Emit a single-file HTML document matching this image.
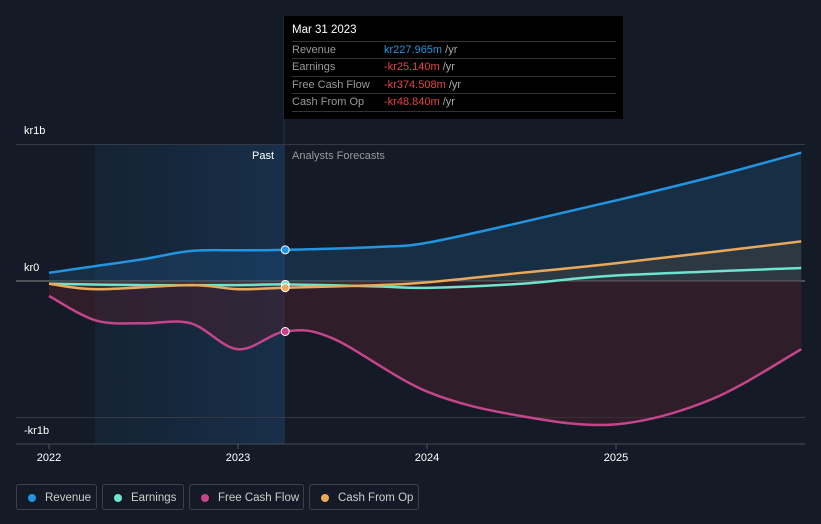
<!DOCTYPE html>
<html><head><meta charset="utf-8"><style>
body{margin:0;background:#151b26;font-family:"Liberation Sans",sans-serif;}
#wrap{position:relative;width:821px;height:524px;overflow:hidden;background:#151b26;}
svg{position:absolute;left:0;top:0}
.tt{position:absolute;left:284px;top:16px;width:339px;height:103px;background:#000;color:#ddd;font-size:11px}
.tt .h{position:absolute;left:8px;top:8px;color:#fff;font-size:11.5px}
.row{position:absolute;left:8px;width:324px;height:17px;border-top:1px solid #333;line-height:17px}
.row span.l{color:#999;position:absolute;left:0}
.row span.v{position:absolute;left:92px}
.u{color:#aaa}
.lg{position:absolute;top:484px;height:26px;border:1px solid #3a414c;border-radius:3px;color:#ccc;font-size:11.5px;line-height:26px;box-sizing:border-box}
.lg i{position:absolute;left:11px;top:9px;width:8px;height:8px;border-radius:50%}
.lg span{position:absolute;left:28px}
.ax{position:absolute;color:#fff;font-size:11px}
</style></head><body><div id="wrap">
<svg id="s" width="821" height="524"></svg>
<div class="ax" style="left:24px;top:125px">kr1b</div>
<div class="ax" style="left:24px;top:262px">kr0</div>
<div class="ax" style="left:24px;top:425px">-kr1b</div>
<div class="ax" style="left:252px;top:150px">Past</div>
<div class="ax" style="left:292px;top:150px;color:#999">Analysts Forecasts</div>
<div class="tt">
<div class="h">Mar 31 2023</div>
<div class="row" style="top:25px"><span class="l">Revenue</span><span class="v"><b style="font-weight:normal;color:#2394df">kr227.965m</b> <span class="u">/yr</span></span></div>
<div class="row" style="top:42px"><span class="l">Earnings</span><span class="v"><b style="font-weight:normal;color:#e64545">-kr25.140m</b> <span class="u">/yr</span></span></div>
<div class="row" style="top:60px"><span class="l">Free Cash Flow</span><span class="v"><b style="font-weight:normal;color:#e64545">-kr374.508m</b> <span class="u">/yr</span></span></div>
<div class="row" style="top:77px;border-bottom:1px solid #333"><span class="l">Cash From Op</span><span class="v"><b style="font-weight:normal;color:#e64545">-kr48.840m</b> <span class="u">/yr</span></span></div>
</div>
<div class="lg" style="left:16px;width:81px"><i style="background:#2394df"></i><span>Revenue</span></div>
<div class="lg" style="left:102px;width:82px"><i style="background:#6fe3cf"></i><span>Earnings</span></div>
<div class="lg" style="left:189px;width:115px"><i style="background:#c5458a"></i><span>Free Cash Flow</span></div>
<div class="lg" style="left:309px;width:110px"><i style="background:#e8a95c"></i><span>Cash From Op</span></div>
</div>
<script>
const revT=[2022,2022.25,2022.5,2022.75,2023,2023.25,2023.75,2024,2024.5,2025,2025.5,2025.98];
const revV=[0.06,0.11,0.16,0.22,0.225,0.228,0.25,0.28,0.43,0.59,0.76,0.94];
const earT=[2022,2022.5,2023,2023.25,2023.75,2024,2024.5,2025,2025.98];
const earV=[-0.02,-0.03,-0.03,-0.025,-0.04,-0.05,-0.02,0.04,0.095];
const fcfT=[2022,2022.25,2022.5,2022.75,2023,2023.25,2023.5,2024,2024.5,2025,2025.5,2025.98];
const fcfV=[-0.11,-0.29,-0.31,-0.31,-0.5,-0.37,-0.42,-0.81,-0.99,-1.05,-0.87,-0.5];
const cfoT=[2022,2022.25,2022.75,2023,2023.25,2023.75,2024,2024.5,2025,2025.98];
const cfoV=[-0.02,-0.06,-0.03,-0.06,-0.049,-0.03,-0.01,0.06,0.13,0.29];
const yTicks=[1,0,-1];
const xTicks=[2022,2023,2024,2025];
const X=t=>49+(t-2022)*189, Y=v=>281-v*136.5;
const NS='http://www.w3.org/2000/svg', s=document.getElementById('s');
function el(tag,a,name){const e=document.createElementNS(NS,tag);for(const k in a)e.setAttribute(k,a[k]);


s.appendChild(e);return e;}
s.innerHTML='<defs><linearGradient id="pg" x1="0" x2="1"><stop offset="0" stop-color="#15283d" stop-opacity="0.6"/><stop offset="1" stop-color="#182f4a"/></linearGradient></defs>';
el('rect',{x:95,y:144,width:189,height:300,fill:'url(#pg)'},'past-region');
el('line',{x1:284,x2:284,y1:16,y2:444,stroke:'#1f3a57'},'cursor-line');
yTicks.forEach(v=>el('line',{x1:16,x2:805,y1:Y(v),y2:Y(v),stroke:v==0?'#888':'#333a45'},'gridline'));
el('line',{x1:16,x2:805,y1:444,y2:444,stroke:'#444b55'},'x-axis');
xTicks.forEach(t=>{el('line',{x1:X(t),x2:X(t),y1:444,y2:449,stroke:'#555'},'x-tick');
const tx=el('text',{x:X(t),y:461,fill:'#fff','font-size':11,'text-anchor':'middle'},'x-tick-label');tx.textContent=t;});
function path(T,V){const p=T.map((t,i)=>[X(t),Y(V[i])]);
let d='M'+p[0];for(let i=0;i<p.length-1;i++){const p0=p[Math.max(0,i-1)],p1=p[i],p2=p[i+1],p3=p[Math.min(p.length-1,i+2)];
const c1=[p1[0]+(p2[0]-p0[0])/6,p1[1]+(p2[1]-p0[1])/6],c2=[p2[0]-(p3[0]-p1[0])/6,p2[1]-(p3[1]-p1[1])/6];
d+=` C${c1} ${c2} ${p2}`;}return d;}
function area(T,V){return path(T,V)+` L${X(T[T.length-1])},${Y(0)} L${X(T[0])},${Y(0)}Z`;}
el('path',{d:area(revT,revV),fill:'#1b4a75','fill-opacity':0.4},'revenue-area');
el('path',{d:area(fcfT,fcfV),fill:'#4a1f2c','fill-opacity':0.5},'fcf-area');
el('path',{d:area(cfoT,cfoV),fill:'#6a5a40','fill-opacity':0.25},'cfo-area');
[[revT,revV,'#2394df','revenue-line'],[earT,earV,'#6fe3cf','earnings-line'],[fcfT,fcfV,'#c5458a','fcf-line'],[cfoT,cfoV,'#e8a95c','cfo-line']].forEach(([T,V,c,n])=>{
el('path',{d:path(T,V),fill:'none',stroke:c,'stroke-width':2.5},n);
const i=T.indexOf(2023.25);el('circle',{cx:X(T[i]),cy:Y(V[i]),r:4,fill:c,stroke:'#fff','stroke-width':1},n.replace('line','point'));});
</script></body></html>
